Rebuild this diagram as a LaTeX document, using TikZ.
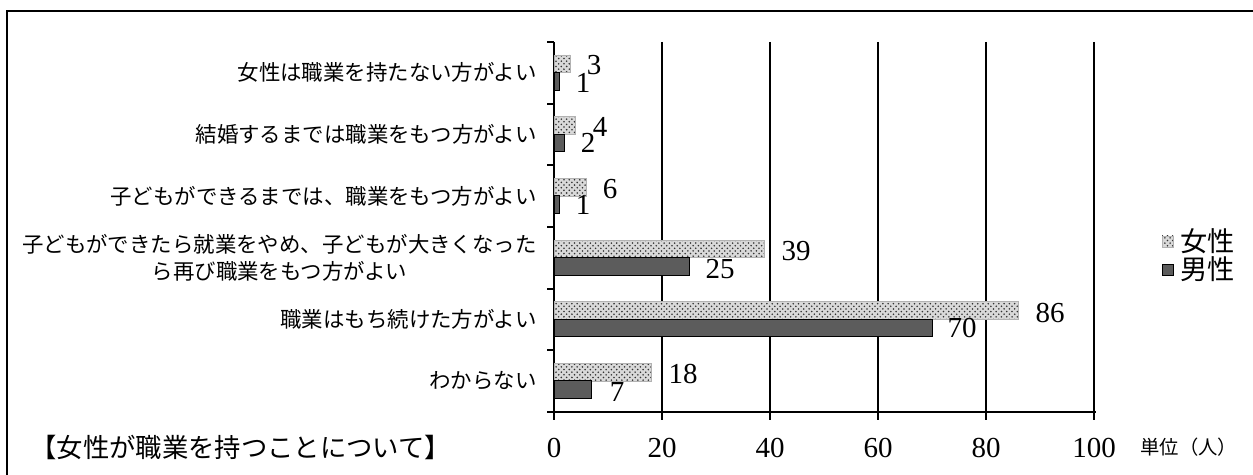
\documentclass[tikz,border=0pt]{standalone}
\usepackage{fontspec}
\newfontfamily\jpfont{Noto Sans CJK JP}
\newfontfamily\numfont{Liberation Serif}
\usetikzlibrary{patterns}

\tikzset{
  femalebar/.style={preaction={fill=gray!30}, pattern=crosshatch dots,
    pattern color=black!80, draw=gray!60, line width=0.3pt},
  malebar/.style={fill=black!64, draw=black, line width=0.5pt},
  gridline/.style={line width=1pt},
  catlabel/.style={anchor=east, align=center, inner sep=0pt,
    font=\jpfont\fontsize{12.2}{15.5}\selectfont},
  vallabel/.style={inner sep=0pt, font=\numfont\fontsize{16.5}{16.5}\selectfont},
  legendtext/.style={anchor=west, inner sep=0pt,
    font=\jpfont\fontsize{15.5}{15.5}\selectfont},
}

\begin{document}
\begin{tikzpicture}[x=0.02cm, y=-0.02cm]
  \useasboundingbox (0,0) rectangle (1253,475);

  % Frame (top and left edges)
  \draw[line width=1.2pt] (7,475) -- (7,11) -- (1253,11);

  % Chart geometry
  \pgfmathsetmacro{\xzero}{554}
  \pgfmathsetmacro{\xunit}{5.4}
  \pgfmathsetmacro{\rowh}{61.67}

  % Vertical gridlines
  \foreach \v in {20,40,...,100} {
    \draw[gridline] (\xzero+\xunit*\v,42) -- (\xzero+\xunit*\v,420);
    \node[vallabel] (tick\v) at (\xzero+\xunit*\v,448) {\v};
  }
  \node[vallabel] (tick0) at (\xzero,448) {0};

  % Axes
  \draw[gridline] (\xzero,42) -- (\xzero,420);
  \draw[gridline] (547,412) -- (1096,412);
  \foreach \k in {0,...,5}
    \draw[gridline] (547,42+\rowh*\k) -- (\xzero,42+\rowh*\k);

  % Bars (female / male)
  \foreach \f/\m [count=\i] in {3/1,4/2,6/1,39/25,86/70,18/7} {
    \pgfmathsetmacro{\ctop}{42+\rowh*(\i-1)}
    \draw[femalebar] (\xzero,\ctop+13) rectangle (\xzero+\xunit*\f,\ctop+30.5);
    \draw[malebar] (\xzero,\ctop+30.5) rectangle (\xzero+\xunit*\m,\ctop+48);
  }

  % Value labels
  \node[vallabel] (f1) at (594,65) {3};
  \node[vallabel] (m1) at (583,83) {1};
  \node[vallabel] (f2) at (600,127) {4};
  \node[vallabel] (m2) at (588,143) {2};
  \node[vallabel] (f3) at (610,189) {6};
  \node[vallabel] (m3) at (583,205) {1};
  \node[vallabel] (f4) at (796,251) {39};
  \node[vallabel] (m4) at (720,269) {25};
  \node[vallabel] (f5) at (1050,313) {86};
  \node[vallabel] (m5) at (962,328) {70};
  \node[vallabel] (f6) at (683,374) {18};
  \node[vallabel] (m6) at (617,392) {7};

  % Category labels
  \node[catlabel] (cat1) at (537,72.8) {女性は職業を持たない方がよい};
  \node[catlabel] (cat2) at (537,134.5) {結婚するまでは職業をもつ方がよい};
  \node[catlabel] (cat3) at (537,196) {子どもができるまでは、職業をもつ方がよい};
  \node[catlabel] (cat4) at (537,258) {子どもができたら就業をやめ、子どもが大きくなった\\ら再び職業をもつ方がよい};
  \node[catlabel] (cat5) at (537,319.5) {職業はもち続けた方がよい};
  \node[catlabel] (cat6) at (537,381) {わからない};

  % Legend
  \draw[femalebar] (1162,236) rectangle (1173,247);
  \node[legendtext] (legf) at (1180,241) {女性};
  \draw[malebar] (1162,264) rectangle (1173,275);
  \node[legendtext] (legm) at (1180,269) {男性};

  % Title and unit
  \node[anchor=west, inner sep=0pt, font=\jpfont\fontsize{15}{15}\selectfont]
    (title) at (30,447) {【女性が職業を持つことについて】};
  \node[anchor=west, inner sep=0pt, font=\jpfont\fontsize{11}{11}\selectfont]
    (unit) at (1140,447) {単位（人）};
\end{tikzpicture}
\end{document}
